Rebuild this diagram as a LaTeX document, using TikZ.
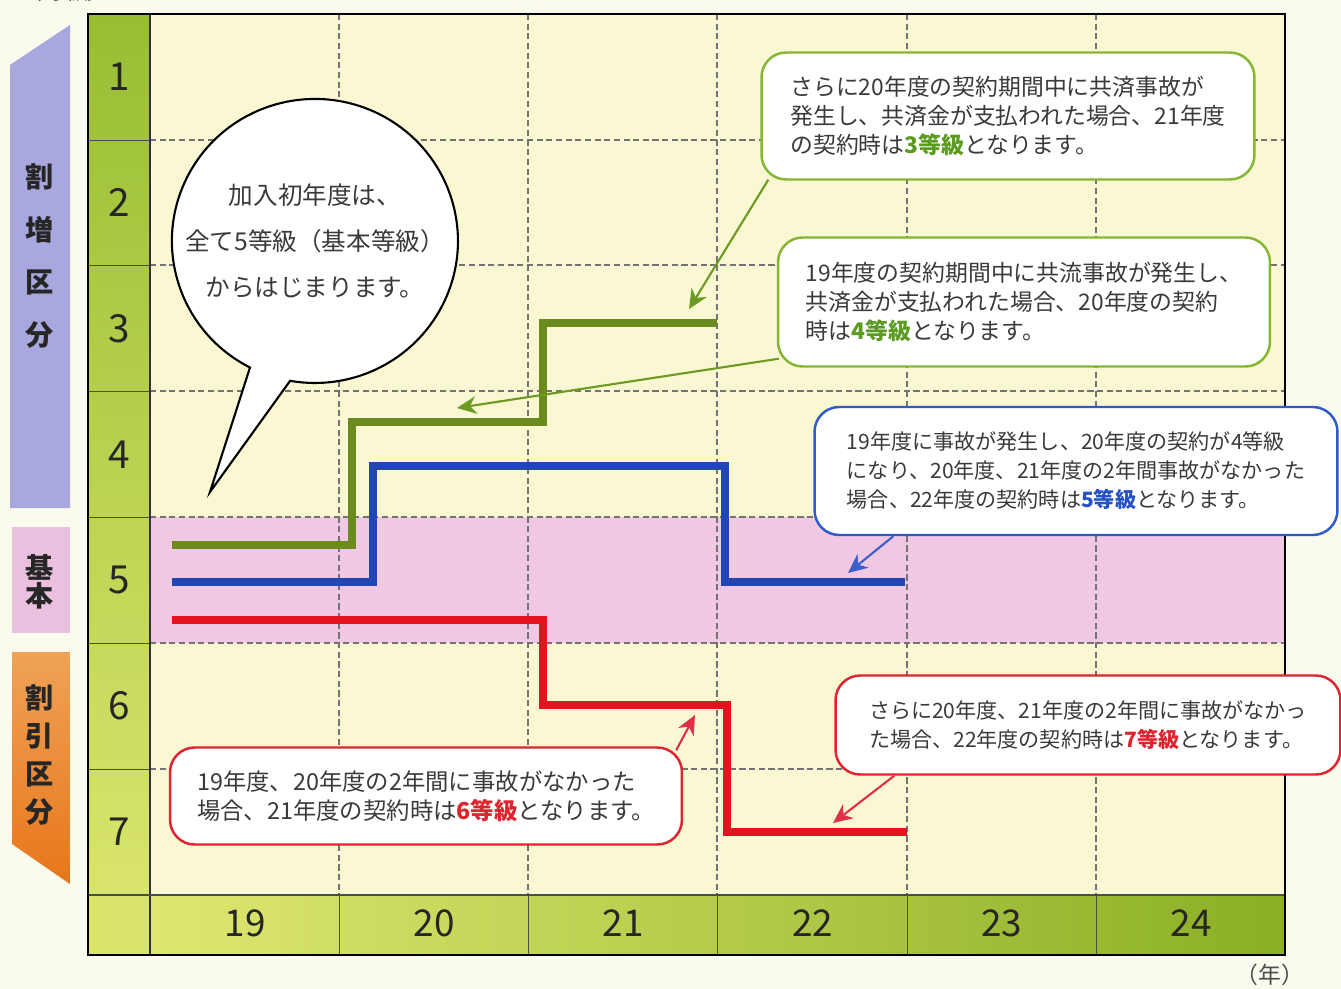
\documentclass[tikz,border=0pt]{standalone}
\usepackage{fontspec}
\setmainfont{Noto Sans CJK JP}
\usetikzlibrary{positioning,arrows.meta}

\definecolor{pagebg}{HTML}{FBFAEE}
\definecolor{plotbg}{HTML}{FAF8D2}
\definecolor{bandpink}{HTML}{F1C8E4}
\definecolor{lavender}{HTML}{A8A7DE}
\definecolor{pinklab}{HTML}{EAC0DE}
\definecolor{orangetop}{HTML}{EFA257}
\definecolor{orangebot}{HTML}{E8761A}
\definecolor{colgreentop}{HTML}{98BE34}
\definecolor{colgreenbot}{HTML}{D9E46C}
\definecolor{rowgreenleft}{HTML}{DEE770}
\definecolor{rowgreenright}{HTML}{8BAF26}
\definecolor{lineg}{HTML}{6B8B1F}
\definecolor{lineb}{HTML}{2147B3}
\definecolor{liner}{HTML}{E3131F}
\definecolor{boxg}{HTML}{86B531}
\definecolor{boxb}{HTML}{2E5BC8}
\definecolor{boxr}{HTML}{E0242F}
\definecolor{arrg}{HTML}{6C9A22}
\definecolor{arrb}{HTML}{3A5FC8}
\definecolor{arrr}{HTML}{E03048}
\definecolor{hlg}{HTML}{5C9B22}
\definecolor{hlb}{HTML}{2452C4}
\definecolor{hlr}{HTML}{E0242F}
\definecolor{textgray}{HTML}{3A3A3A}

\begin{document}
\begin{tikzpicture}[x=0.02cm,y=-0.02cm,>={Stealth[length=11pt,width=10pt,inset=3.5pt]},node distance=2.516cm,
    rank node/.style={font=\fontsize{22}{22}\selectfont,text=black!85},
    year node/.style={font=\fontsize{21}{21}\selectfont,text=black!85},
    side node/.style={font=\fontsize{16}{30}\selectfont\bfseries,align=center,text=black!85},
    note node/.style={rectangle,draw,fill=white,rounded corners=14pt,line width=1.4pt,align=left,inner sep=0pt,text=textgray,font=\fontsize{13}{16.5}\selectfont},
    grid line/.style={dash pattern=on 3.5pt off 2pt,line width=0.75pt,draw=black!55},
    step line/.style={line width=4pt,line join=miter},
    hint arrow/.style={->,line width=1.2pt}]
        \useasboundingbox (0,0) rectangle (1341,989);
        \clip (0,0) rectangle (1341,989);
        \fill[pagebg] (0,0) rectangle (1341,989);

        % chart background
        \fill[plotbg] (150,14) rectangle (1285,895);
        \fill[bandpink] (150,517) rectangle (1285,643);
        \shade[top color=colgreentop,bottom color=colgreenbot] (88,14) rectangle (150,895);
        \fill[colgreenbot] (88,895) rectangle (150,955);
        \shade[left color=rowgreenleft,right color=rowgreenright] (150,895) rectangle (1285,955);

        \foreach \y in {140,265,391,517,643,769}{
            \draw[grid line] (150,\y) -- (1285,\y);
            \draw[black!70,line width=0.5pt] (88,\y) -- (150,\y);
        }
        \foreach \x in {339,528,717,907,1096}{
            \draw[grid line] (\x,14) -- (\x,895);
            \draw[black!70,line width=0.5pt] (\x,895) -- (\x,955);
        }
        \draw[black!80,line width=1pt] (150,14) -- (150,955);
        \draw[black!70,line width=1pt] (88,895) -- (1285,895);
        \draw[black,line width=1.2pt] (88,14) rectangle (1285,955);

        % side labels
        \fill[lavender] (10,65) -- (70,25) -- (70,508) -- (10,508) -- cycle;
        \fill[pinklab] (12,527) rectangle (70,633);
        \shade[top color=orangetop,bottom color=orangebot] (12,652) -- (70,652) -- (70,884) -- (12,844) -- cycle;
        \node [side node](up) at (40,256){割\\増\\区\\分};
        \node [side node,font=\fontsize{16}{16}\selectfont\bfseries](base) at (40,582){基\\本};
        \node [side node,font=\fontsize{16}{21.7}\selectfont\bfseries](down) at (40,755){割\\引\\区\\分};

        \node [text=black!70,font=\fontsize{13}{13}\selectfont](unit) at (65,-9){（等級）};
        \node [text=black!70,font=\fontsize{13}{13}\selectfont](year) at (1270,975){（年）};

        % ranks
        \node [rank node](r1) at (119,77){1};
        \node [rank node](r2) [below of=r1]{2};
        \node [rank node](r3) [below of=r2]{3};
        \node [rank node](r4) [below of=r3]{4};
        \node [rank node](r5) [below of=r4]{5};
        \node [rank node](r6) [below of=r5]{6};
        \node [rank node](r7) [below of=r6]{7};

        % years
        \foreach \n [count=\i from 0] in {19,20,21,22,23,24}
            \node [year node](y\n) at (245+189.2*\i,923){\n};

        % steps
        \draw[step line,lineg] (172,545) -- (352,545) -- (352,422) -- (543,422) -- (543,323) -- (717,323);
        \draw[step line,lineb] (172,582) -- (373,582) -- (373,466) -- (725,466) -- (725,582) -- (905,582);
        \draw[step line,liner] (172,620) -- (543,620) -- (543,705) -- (727,705) -- (727,832) -- (907,832);

        \coordinate (a1) at (689,309);
        \coordinate (a2) at (457,408);
        \coordinate (a3) at (848,573);
        \coordinate (a4) at (833,823);
        \coordinate (a5) at (695,715);

        \node [note node,draw=boxg,minimum width=9.86cm,minimum height=2.54cm](1) at (1008,116){さらに20年度の契約期間中に共済事故が\\発生し、共済金が支払われた場合、21年度\\の契約時は\textcolor{hlg}{\bfseries 3等級}となります。};
        \node [note node,draw=boxg,minimum width=9.84cm,minimum height=2.58cm](2) at (1024,302){19年度の契約期間中に共流事故が発生し、\\共済金が支払われた場合、20年度の契約\\時は\textcolor{hlg}{\bfseries 4等級}となります。};
        \node [note node,draw=boxb,minimum width=10.46cm,minimum height=2.56cm,font=\fontsize{12}{16.5}\selectfont](3) at (1076,471){19年度に事故が発生し、20年度の契約が4等級\\になり、20年度、21年度の2年間事故がなかった\\場合、22年度の契約時は\textcolor{hlb}{\bfseries 5等級}となります。};
        \node [note node,draw=boxr,minimum width=10.1cm,minimum height=1.98cm,font=\fontsize{12}{16.5}\selectfont](4) at (1088,725){さらに20年度、21年度の2年間に事故がなかっ\\た場合、22年度の契約時は\textcolor{hlr}{\bfseries 7等級}となります。};
        \node [note node,draw=boxr,minimum width=10.24cm,minimum height=1.94cm,font=\fontsize{13.3}{16.5}\selectfont](5) at (426,796){19年度、20年度の2年間に事故がなかった\\場合、21年度の契約時は\textcolor{hlr}{\bfseries 6等級}となります。};

        \draw[hint arrow,arrg] ([shift={(8,-1)}]1.south west) -- (a1);
        \draw[hint arrow,arrg] ([shift={(2,-9)}]2.south west) -- (a2);
        \draw[hint arrow,arrb] ([shift={(80,0)}]3.south west) -- (a3);
        \draw[hint arrow,arrr] ([shift={(60,0)}]4.south west) -- (a4);
        \draw[hint arrow,arrr] ([shift={(-7,4)}]5.north east) -- (a5);

        % speech bubble
        \draw[fill=white,line width=1.2pt,line join=miter] (250,367.5) arc[start angle=117,end angle=460,x radius=143,y radius=142] -- (210,492) -- cycle;
        \node [align=center,text=textgray,font=\fontsize{14}{26}\selectfont](6) at (315,241){加入初年度は、\\全て5等級（基本等級）\\からはじまります。};
\end{tikzpicture}
\end{document}
